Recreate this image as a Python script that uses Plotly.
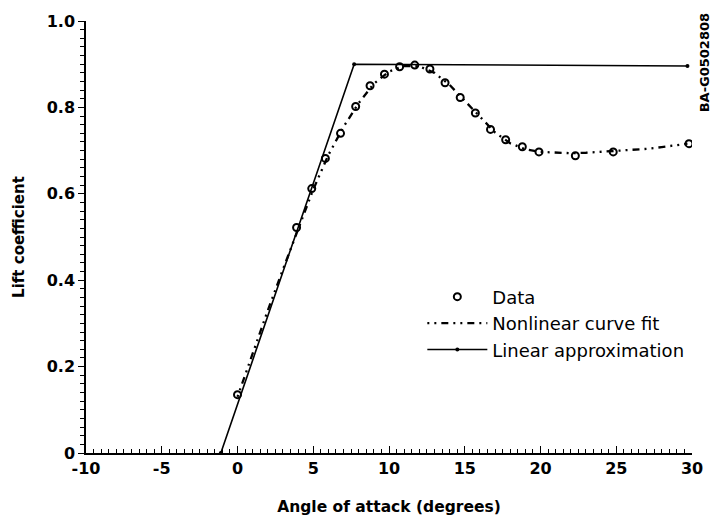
import plotly.graph_objects as go

# Measured lift coefficient vs. angle of attack
data_alpha = [0.0, 3.9, 4.9, 5.8, 6.8, 7.8, 8.75, 9.7, 10.7, 11.7, 12.7, 13.7,
              14.7, 15.7, 16.7, 17.7, 18.8, 19.9, 22.3, 24.8, 29.8]
data_cl = [0.135, 0.522, 0.612, 0.682, 0.740, 0.802, 0.850, 0.877, 0.894, 0.898,
           0.889, 0.857, 0.823, 0.787, 0.749, 0.725, 0.709, 0.697, 0.688, 0.697, 0.716]

# Nonlinear curve fit
fit_alpha = [0, 1, 2, 3, 4, 5, 6, 7, 8, 9, 10, 11, 12, 13, 14, 15, 16, 17, 18,
             19, 20, 21, 22, 23, 24, 25, 26, 27, 28, 29, 29.7]
fit_cl = [0.13, 0.232, 0.33, 0.425, 0.52, 0.61, 0.69, 0.755, 0.81, 0.855, 0.883,
          0.896, 0.895, 0.88, 0.852, 0.815, 0.777, 0.742, 0.717, 0.703, 0.697,
          0.695, 0.694, 0.695, 0.697, 0.699, 0.701, 0.704, 0.708, 0.712, 0.716]

# Piecewise linear approximation
lin_alpha = [-1.1, 7.7, 29.7]
lin_cl = [0.0, 0.9, 0.896]

# Axis tick labels
x_ticks = [-10, -5, 0, 5, 10, 15, 20, 25, 30]
x_ticklabels = ["-10", "-5", "0", "5", "10", "15", "20", "25", "30"]
y_ticks = [0, 0.2, 0.4, 0.6, 0.8, 1.0]
y_ticklabels = ["0", "0.2", "0.4", "0.6", "0.8", "1.0"]

FONT = "DejaVu Sans, Verdana, sans-serif"

fig = go.Figure()

fig.add_trace(go.Scatter(
    x=data_alpha, y=data_cl, mode="markers", name="Data",
    marker=dict(symbol="circle-open", size=7, color="black", line=dict(width=2)),
))
fig.add_trace(go.Scatter(
    x=fit_alpha, y=fit_cl, mode="lines", name="Nonlinear curve fit",
    line=dict(color="black", width=2.3, dash="2px,5px,2px,5px,7px,5px"),
))
fig.add_trace(go.Scatter(
    x=lin_alpha, y=lin_cl, mode="lines+markers", name="Linear approximation",
    line=dict(color="black", width=1.6),
    marker=dict(symbol="circle", size=4, color="black"),
))

fig.add_annotation(
    text="BA-G0502808", xref="paper", yref="paper", x=1.022, y=1.022,
    xanchor="center", yanchor="top", textangle=-90, showarrow=False,
    font=dict(family=FONT, size=13, color="black", weight="bold"),
)

fig.update_layout(
    width=725, height=525,
    margin=dict(l=86, r=33, t=17, b=71),
    paper_bgcolor="white", plot_bgcolor="white",
    font=dict(family=FONT, color="black"),
    showlegend=True,
    legend=dict(
        x=0.555, y=0.404, xanchor="left", yanchor="top",
        font=dict(size=18, color="black", family=FONT), bgcolor="rgba(0,0,0,0)",
        itemwidth=60, tracegroupgap=0,
    ),
    xaxis=dict(
        range=[-10, 30], showgrid=False, zeroline=False,
        showline=True, linecolor="black", linewidth=1.5,
        tickvals=x_ticks, ticktext=x_ticklabels,
        ticks="inside", ticklen=7, tickwidth=1.2, tickcolor="black",
        minor=dict(dtick=0.5, tick0=0, ticks="inside", ticklen=4, tickcolor="black", tickwidth=1),
        tickfont=dict(size=16, family=FONT, weight="bold"),
        title=dict(text="Angle of attack (degrees)", standoff=24,
                   font=dict(size=15.5, family=FONT, weight="bold")),
    ),
    yaxis=dict(
        range=[0, 1.0], showgrid=False, zeroline=False,
        showline=True, linecolor="black", linewidth=1.5,
        tickvals=y_ticks, ticktext=y_ticklabels,
        ticks="outside", ticklen=6, tickwidth=1.2, tickcolor="black",
        minor=dict(dtick=0.02, tick0=0, ticks="outside", ticklen=4, tickcolor="black", tickwidth=1),
        tickfont=dict(size=16, family=FONT, weight="bold"),
        title=dict(text="Lift coefficient", standoff=18,
                   font=dict(size=15, family=FONT, weight="bold")),
    ),
)

fig.write_html("out.html")
